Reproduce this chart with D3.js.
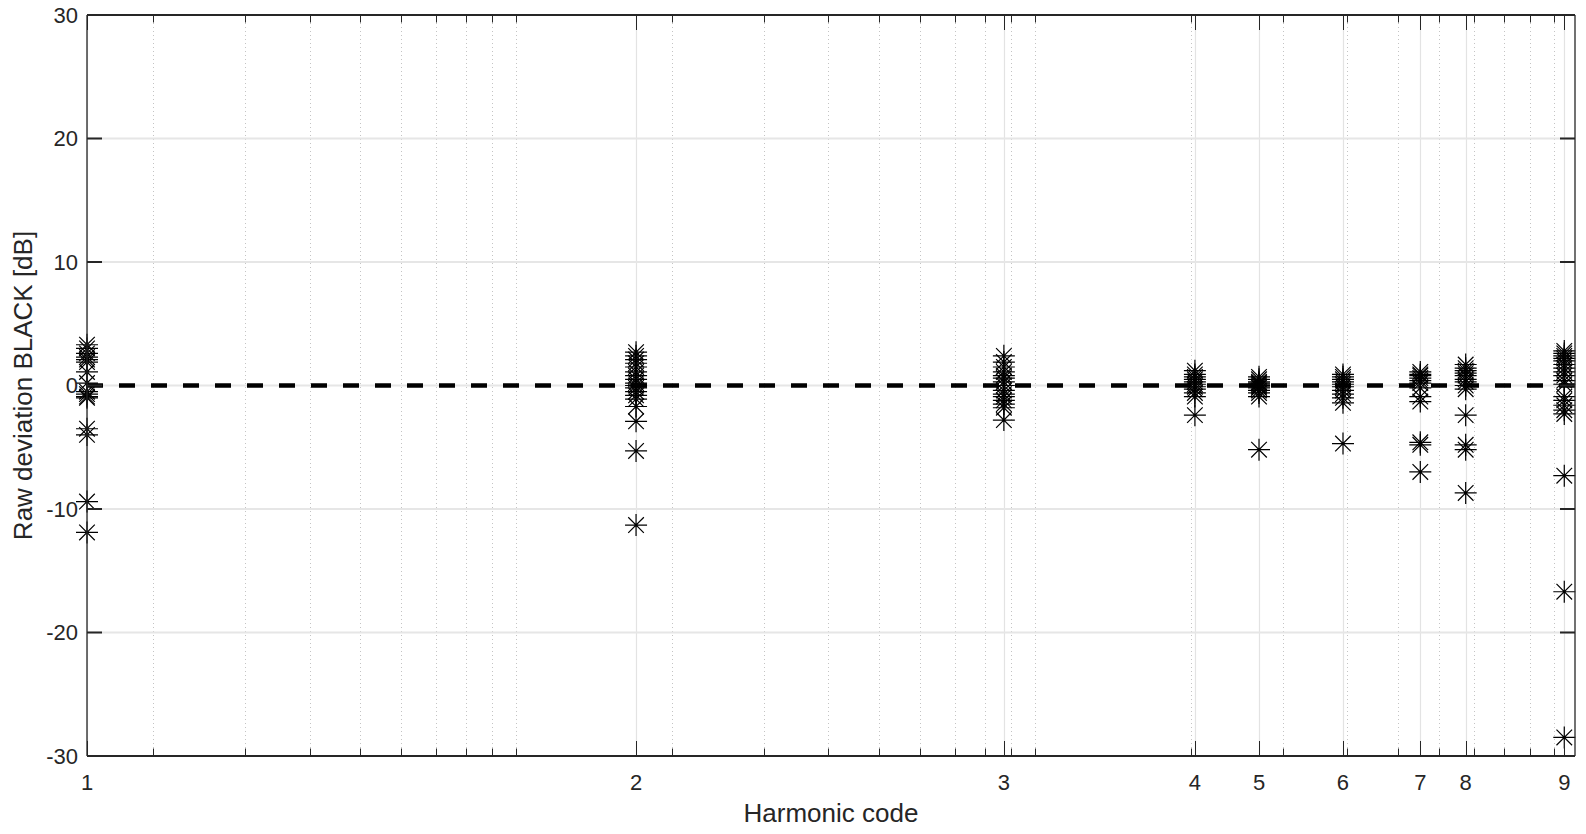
<!DOCTYPE html>
<html>
<head>
<meta charset="utf-8">
<script src="https://cdn.jsdelivr.net/npm/d3@7"></script>
<style>
  body { margin: 0; background: #fff; }
  svg { display: block; font-family: "Liberation Sans", Arial, sans-serif; }
</style>
</head>
<body>
<svg id="chart" width="1586" height="834"></svg>
<script>
// harmonic codes and where each one sits on the (log) x axis
const harmonicCodes = ["1", "2", "3", "4", "5", "6", "7", "8", "9"];
const codeAxisValues = [1.49, 17.03, 87.1, 203.3, 270.2, 392.2, 552.7, 676, 1047];
const xLimits = [1.49, 1098];
const yTicks = [-30, -20, -10, 0, 10, 20, 30];

// raw deviation (dB) read for each harmonic code
const dev1 = [3.3, 3.0, 2.6, 2.3, 2.1, 1.9, 1.1, 0.2, -0.5, -0.7, -0.9, -1.0, -3.5, -4.0, -9.4, -11.9];
const dev2 = [2.7, 2.4, 2.1, 1.8, 1.5, 1.1, 0.8, 0.5, 0.2, 0.0, -0.2, -0.5, -0.8, -1.1, -1.7, -2.9, -5.3, -11.3];
const dev3 = [2.4, 1.9, 1.5, 1.1, 0.8, 0.6, 0.3, 0.0, -0.4, -0.7, -0.9, -1.2, -1.5, -1.8, -2.8];
const dev4 = [1.2, 0.9, 0.7, 0.5, 0.3, 0.1, -0.1, -0.3, -0.6, -0.9, -2.4];
const dev5 = [0.7, 0.5, 0.3, 0.2, 0.1, 0.0, -0.1, -0.2, -0.4, -0.6, -0.9, -5.2];
const dev6 = [0.9, 0.7, 0.5, 0.3, 0.1, -0.1, -0.4, -0.7, -1.0, -1.4, -4.7];
const dev7 = [1.1, 0.9, 0.8, 0.6, 0.4, 0.2, -0.2, -0.9, -1.3, -4.6, -4.8, -7.0];
const dev8 = [1.7, 1.4, 1.2, 1.0, 0.8, 0.5, 0.3, 0.0, -0.3, -2.4, -4.8, -5.2, -8.7];
const dev9 = [2.8, 2.6, 2.4, 2.2, 2.0, 1.7, 1.4, 1.1, 0.8, 0.4, 0.1, -0.9, -1.2, -1.6, -2.0, -2.3, -7.3, -16.7, -28.5];
const deviations = [dev1, dev2, dev3, dev4, dev5, dev6, dev7, dev8, dev9];

const svg = d3.select("#chart");
const plotLeft = 87, plotRight = 1575, plotTop = 15, plotBottom = 756;
const axisColor = "#262626";

const x = d3.scaleLog().domain(xLimits).range([plotLeft, plotRight]);
const y = d3.scaleLinear().domain([-30, 30]).range([plotBottom, plotTop]);

// minor (log) tick values inside the x range
const minorTicks = [];
for (let p = 0; p <= 3; p++) {
    for (let k = 1; k <= 9; k++) {
        const v = k * Math.pow(10, p);
        if (v > xLimits[0] && v < xLimits[1]) minorTicks.push(v);
    }
}

const grid = svg.append("g");
// minor grid, dotted
grid.selectAll(".minor").data(minorTicks).enter().append("line")
    .attr("x1", d => Math.round(x(d)) + 0.5).attr("x2", d => Math.round(x(d)) + 0.5)
    .attr("y1", plotTop).attr("y2", plotBottom)
    .attr("stroke", "#c4c4c4").attr("stroke-width", 1).attr("stroke-dasharray", "1,3");
// major grid
grid.selectAll(".vmajor").data(codeAxisValues).enter().append("line")
    .attr("x1", d => Math.round(x(d)) + 0.5).attr("x2", d => Math.round(x(d)) + 0.5)
    .attr("y1", plotTop).attr("y2", plotBottom)
    .attr("stroke", "#e3e3e3").attr("stroke-width", 1.2);
grid.selectAll(".hmajor").data(yTicks).enter().append("line")
    .attr("x1", plotLeft).attr("x2", plotRight)
    .attr("y1", d => y(d)).attr("y2", d => y(d))
    .attr("stroke", "#e6e6e6").attr("stroke-width", 2);

// zero reference line
svg.append("line")
    .attr("x1", plotLeft).attr("x2", plotRight)
    .attr("y1", y(0)).attr("y2", y(0))
    .attr("stroke", "#000").attr("stroke-width", 4.3)
    .attr("stroke-dasharray", "16,16");

// asterisk markers
const star = "M0,-11V11M-11,0H11M-7.8,-7.8L7.8,7.8M-7.8,7.8L7.8,-7.8";
const points = [];
deviations.forEach((arr, i) => arr.forEach(v => points.push({ code: i, v: v })));
svg.append("g").selectAll("path").data(points).enter().append("path")
    .attr("d", star)
    .attr("transform", d => `translate(${x(codeAxisValues[d.code])},${y(d.v)})`)
    .attr("fill", "none").attr("stroke", "#000").attr("stroke-width", 1.2);

// axes box
const axes = svg.append("g").attr("stroke", axisColor);
axes.append("line").attr("x1", plotLeft).attr("x2", plotRight).attr("y1", plotTop).attr("y2", plotTop).attr("stroke-width", 2);
axes.append("line").attr("x1", plotLeft).attr("x2", plotRight).attr("y1", plotBottom).attr("y2", plotBottom).attr("stroke-width", 2);
axes.append("line").attr("x1", plotLeft).attr("x2", plotLeft).attr("y1", plotTop).attr("y2", plotBottom).attr("stroke-width", 1.3);
axes.append("line").attr("x1", plotRight).attr("x2", plotRight).attr("y1", plotTop).attr("y2", plotBottom).attr("stroke-width", 1.3);

// x ticks (inward, top and bottom)
[plotTop, plotBottom].forEach(y0 => {
    const dir = y0 === plotTop ? 1 : -1;
    axes.selectAll(null).data(minorTicks).enter().append("line")
        .attr("x1", d => Math.round(x(d)) + 0.5).attr("x2", d => Math.round(x(d)) + 0.5)
        .attr("y1", y0).attr("y2", y0 + dir * 7.5).attr("stroke-width", 1);
    axes.selectAll(null).data(codeAxisValues).enter().append("line")
        .attr("x1", d => Math.round(x(d)) + 0.5).attr("x2", d => Math.round(x(d)) + 0.5)
        .attr("y1", y0).attr("y2", y0 + dir * 15).attr("stroke-width", 1);
});
// y ticks (inward, left and right)
[plotLeft, plotRight].forEach(x0 => {
    const dir = x0 === plotLeft ? 1 : -1;
    axes.selectAll(null).data(yTicks).enter().append("line")
        .attr("x1", x0).attr("x2", x0 + dir * 15)
        .attr("y1", d => y(d)).attr("y2", d => y(d)).attr("stroke-width", 2);
});

// tick labels
svg.append("g").selectAll("text").data(codeAxisValues).enter().append("text")
    .attr("x", d => x(d)).attr("y", 790)
    .attr("text-anchor", "middle").attr("font-size", 22).attr("fill", axisColor)
    .text((d, i) => harmonicCodes[i]);
svg.append("g").selectAll("text").data(yTicks).enter().append("text")
    .attr("x", 78).attr("y", d => y(d)).attr("dy", "0.36em")
    .attr("text-anchor", "end").attr("font-size", 22).attr("fill", axisColor)
    .text(d => d);

// axis labels
svg.append("text")
    .attr("x", (plotLeft + plotRight) / 2).attr("y", 822)
    .attr("text-anchor", "middle").attr("font-size", 26).attr("fill", axisColor)
    .text("Harmonic code");
svg.append("text")
    .attr("transform", `translate(32,${(plotTop + plotBottom) / 2}) rotate(-90)`)
    .attr("text-anchor", "middle").attr("font-size", 26).attr("fill", axisColor)
    .text("Raw deviation BLACK [dB]");
</script>
</body>
</html>
